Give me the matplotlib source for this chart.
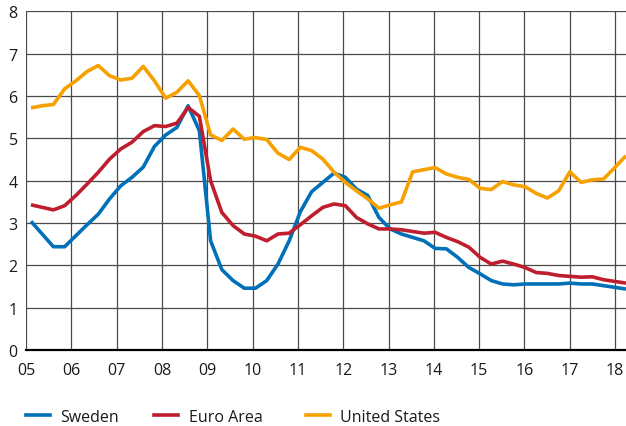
import numpy as np
import matplotlib
matplotlib.use("Agg")
import matplotlib.pyplot as plt
from matplotlib.lines import Line2D

# Quarterly data, 2005Q1 .. 2018Q2
years = ["05", "06", "07", "08", "09", "10", "11", "12", "13", "14", "15", "16", "17", "18"]
y_ticks = [0, 1, 2, 3, 4, 5, 6, 7, 8]

sweden = [3.04, 2.74, 2.44, 2.44, 2.70, 2.96, 3.21, 3.57, 3.88, 4.08,
          4.32, 4.81, 5.08, 5.26, 5.77, 5.18, 2.58, 1.90, 1.64, 1.46,
          1.46, 1.64, 2.03, 2.58, 3.27, 3.74, 3.96, 4.18, 4.08, 3.80,
          3.65, 3.13, 2.86, 2.74, 2.66, 2.58, 2.40, 2.39, 2.19, 1.95,
          1.80, 1.64, 1.56, 1.54, 1.56, 1.56, 1.56, 1.56, 1.58, 1.56,
          1.56, 1.52, 1.48, 1.44]
euro = [3.43, 3.37, 3.31, 3.41, 3.65, 3.92, 4.20, 4.51, 4.75, 4.91,
        5.16, 5.30, 5.28, 5.36, 5.73, 5.52, 4.00, 3.25, 2.94, 2.74,
        2.69, 2.58, 2.74, 2.76, 2.96, 3.17, 3.37, 3.45, 3.41, 3.13,
        2.98, 2.86, 2.86, 2.84, 2.80, 2.76, 2.78, 2.66, 2.56, 2.43,
        2.19, 2.03, 2.10, 2.03, 1.95, 1.83, 1.81, 1.76, 1.74, 1.72,
        1.73, 1.66, 1.62, 1.58]
usa = [5.72, 5.77, 5.80, 6.17, 6.36, 6.58, 6.72, 6.48, 6.38, 6.42,
       6.70, 6.36, 5.95, 6.09, 6.36, 6.01, 5.08, 4.95, 5.22, 4.98,
       5.02, 4.97, 4.65, 4.50, 4.79, 4.71, 4.51, 4.20, 3.96, 3.76,
       3.57, 3.35, 3.43, 3.50, 4.21, 4.26, 4.31, 4.16, 4.08, 4.03,
       3.82, 3.79, 3.98, 3.90, 3.86, 3.70, 3.59, 3.76, 4.21, 3.96,
       4.02, 4.04, 4.31, 4.59]

names = ["Sweden", "Euro Area", "United States"]
colors = ["#0070B8", "#BE1E2D", "#F7A100"]

plt.rcParams['font.family'] = ['Open Sans', 'DejaVu Sans']

fig = plt.figure(figsize=(6.26, 4.27), dpi=100)
ax = fig.add_axes([0.0415, 0.178, 0.9585, 0.793])

n = len(sweden)
x = np.linspace(5.11, 18.24, n)

for series, c in zip([sweden, euro, usa], colors):
    ax.plot(x, series, color=c, lw=2.6, solid_joinstyle='round', solid_capstyle='butt', zorder=3)

ax.set_xlim(5, 18.24)
ax.set_ylim(0, 8)
ax.set_xticks(np.arange(5, 5 + len(years)))
ax.set_xticklabels(years)
ax.set_yticks(y_ticks)
ax.set_yticklabels([str(v) for v in y_ticks])

ax.grid(True, color="#4a4a4a", lw=0.9, zorder=1)
ax.set_axisbelow(True)
for s in ["top", "right", "left"]:
    ax.spines[s].set_visible(False)
ax.spines["bottom"].set_color("black")
ax.spines["bottom"].set_linewidth(1.6)
ax.spines["bottom"].set_zorder(4)

ax.tick_params(axis='both', length=0, labelsize=11.5, colors="#1a1a1a")
ax.tick_params(axis='x', pad=9)
ax.tick_params(axis='y', pad=6)

# legend entries placed individually (uneven spacing as in the reference)
legend_x = [0.0415, 0.2468, 0.4888]
for c, name, lx in zip(colors, names, legend_x):
    h = Line2D([], [], color=c, lw=2.6)
    leg = fig.legend([h], [name], loc='center left', bbox_to_anchor=(lx, 0.022),
                     frameon=False, fontsize=11.5, handlelength=1.5,
                     handletextpad=0.65, borderaxespad=0, borderpad=0)
    for t in leg.get_texts():
        t.set_color("#1a1a1a")

fig.savefig("out.png", dpi=100)
